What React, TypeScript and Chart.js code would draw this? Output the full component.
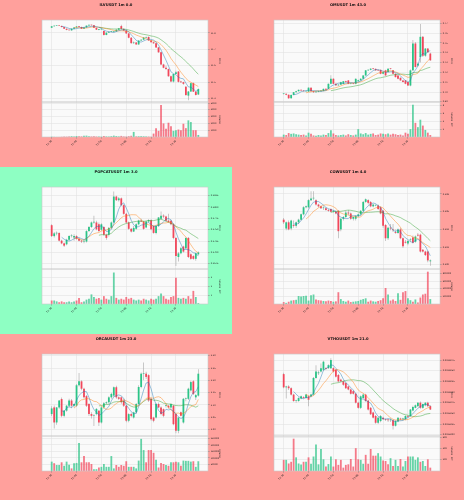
import React, { useEffect, useRef } from "react";
import { Chart, registerables } from "chart.js";

Chart.register(...registerables);
Chart.defaults.font.family = "'DejaVu Sans', sans-serif";

// ---------- shared ----------
const timeLabels = ["12:36", "12:46", "12:56", "13:06", "13:16", "13:26"];
const timeTickIndex = [0, 10, 20, 30, 40, 50];
const maPeriods = [5, 10, 20];
const maColors = ["rgba(31,119,180,0.5)", "rgba(255,127,14,0.5)", "rgba(44,160,44,0.5)"];
const SALMON = "#ffa09c";
const MINT = "#8effc3";
const UP = "#2bc487";
const DOWN = "#f2475b";
const UP_VOL = "rgba(43,196,135,0.72)";
const DOWN_VOL = "rgba(242,71,91,0.72)";
const WICK = "#a6a6a6";

// ---------- ILVUSDT ----------
const ilvTitle = "ILVUSDT 1m 0.0";
const ilvCandles = [
  [11.832,11.843,11.830,11.841],[11.841,11.845,11.840,11.843],[11.843,11.845,11.842,11.844],[11.844,11.845,11.842,11.843],
  [11.843,11.844,11.835,11.836],[11.836,11.837,11.824,11.826],[11.826,11.828,11.817,11.819],[11.819,11.823,11.815,11.816],
  [11.816,11.828,11.814,11.826],[11.826,11.836,11.824,11.834],[11.834,11.842,11.832,11.840],[11.840,11.842,11.835,11.837],
  [11.837,11.838,11.824,11.826],[11.826,11.836,11.824,11.834],[11.834,11.846,11.832,11.845],[11.845,11.851,11.843,11.850],
  [11.850,11.851,11.845,11.847],[11.847,11.848,11.830,11.832],[11.832,11.834,11.818,11.820],[11.820,11.824,11.817,11.822],
  [11.822,11.827,11.820,11.824],[11.812,11.814,11.784,11.788],[11.788,11.805,11.786,11.802],[11.802,11.810,11.800,11.806],
  [11.806,11.812,11.804,11.808],[11.808,11.812,11.805,11.810],[11.810,11.823,11.808,11.820],[11.820,11.830,11.818,11.828],
  [11.842,11.850,11.822,11.825],[11.825,11.827,11.812,11.815],[11.815,11.818,11.795,11.797],[11.797,11.800,11.768,11.771],
  [11.771,11.776,11.735,11.738],[11.738,11.748,11.735,11.742],[11.742,11.745,11.728,11.730],[11.730,11.756,11.728,11.754],
  [11.754,11.762,11.752,11.759],[11.759,11.775,11.757,11.772],[11.772,11.778,11.770,11.775],[11.776,11.778,11.752,11.754],
  [11.754,11.756,11.742,11.744],[11.744,11.746,11.735,11.737],[11.737,11.740,11.710,11.712],[11.712,11.714,11.680,11.682],
  [11.682,11.685,11.605,11.608],[11.608,11.612,11.585,11.588],[11.588,11.600,11.575,11.580],[11.580,11.584,11.533,11.536],
  [11.536,11.540,11.500,11.504],[11.504,11.552,11.498,11.550],[11.550,11.570,11.548,11.560],[11.565,11.568,11.498,11.502],
  [11.502,11.508,11.495,11.500],[11.500,11.502,11.485,11.490],[11.472,11.476,11.418,11.421],[11.418,11.446,11.390,11.443],
  [11.443,11.496,11.440,11.494],[11.494,11.498,11.440,11.442],[11.442,11.445,11.418,11.422],[11.425,11.462,11.422,11.458],
];
const ilvVolume = [40,20,10,10,30,60,50,80,120,60,150,100,90,180,200,120,80,110,70,60,50,150,90,70,120,200,140,90,160,80,60,120,180,750,90,110,120,100,80,60,50,500,1300,900,4700,2000,1200,2100,1600,900,1000,1100,1000,1950,1300,2450,2200,1000,1000,300];
const ilvPriceTicks = [11.4, 11.5, 11.6, 11.7, 11.8];
const ilvPriceRange = [11.379, 11.879];
const ilvVolumeTicks = [1000, 2000, 3000, 4000, 5000];
const ilvVolumeMax = 5150;

// ---------- OMUSDT ----------
const omTitle = "OMUSDT 1m 43.0";
const omCandles = [
  [0.6980,0.6985,0.6975,0.6982],[0.6982,0.6984,0.6968,0.6972],[0.6972,0.6975,0.6932,0.6936],[0.6936,0.6974,0.6933,0.6970],
  [0.6970,0.7000,0.6968,0.6998],[0.6998,0.7012,0.6995,0.7008],[0.7008,0.7025,0.7005,0.7022],[0.7022,0.7024,0.7012,0.7015],
  [0.7015,0.7018,0.7005,0.7008],[0.7008,0.7012,0.7002,0.7008],[0.7004,0.7048,0.7000,0.7044],[0.7044,0.7048,0.7002,0.7008],
  [0.7008,0.7010,0.6990,0.6998],[0.6998,0.7004,0.6992,0.7000],[0.7000,0.7012,0.6998,0.7008],[0.7008,0.7020,0.7004,0.7015],
  [0.7010,0.7035,0.7008,0.7032],[0.7032,0.7035,0.7015,0.7022],[0.7032,0.7088,0.7030,0.7084],[0.7084,0.7170,0.7080,0.7135],
  [0.7135,0.7140,0.7082,0.7084],[0.7084,0.7088,0.7064,0.7068],[0.7068,0.7080,0.7064,0.7075],[0.7075,0.7104,0.7072,0.7100],
  [0.7084,0.7112,0.7080,0.7110],[0.7110,0.7114,0.7098,0.7101],[0.7118,0.7122,0.7080,0.7084],[0.7084,0.7090,0.7078,0.7086],
  [0.7086,0.7090,0.7080,0.7084],[0.7084,0.7138,0.7080,0.7135],[0.7110,0.7125,0.7106,0.7120],[0.7120,0.7140,0.7115,0.7135],
  [0.7135,0.7172,0.7130,0.7169],[0.7169,0.7225,0.7165,0.7221],[0.7221,0.7230,0.7215,0.7226],[0.7226,0.7242,0.7222,0.7238],
  [0.7238,0.7244,0.7230,0.7236],[0.7236,0.7240,0.7218,0.7221],[0.7221,0.7226,0.7214,0.7220],[0.7226,0.7230,0.7180,0.7186],
  [0.7186,0.7208,0.7180,0.7203],[0.7221,0.7226,0.7165,0.7169],[0.7203,0.7242,0.7200,0.7238],[0.7238,0.7244,0.7230,0.7236],
  [0.7221,0.7224,0.7180,0.7186],[0.7186,0.7190,0.7148,0.7152],[0.7169,0.7172,0.7130,0.7135],[0.7145,0.7148,0.7115,0.7118],
  [0.7118,0.7122,0.7098,0.7101],[0.7118,0.7122,0.7080,0.7084],[0.7101,0.7104,0.7062,0.7066],[0.7066,0.7230,0.7060,0.7221],
  [0.7221,0.7530,0.7215,0.7495],[0.7495,0.7510,0.7250,0.7255],[0.7270,0.7300,0.7260,0.7289],[0.7358,0.7693,0.7300,0.7563],
  [0.7563,0.7570,0.7358,0.7370],[0.7370,0.7450,0.7360,0.7443],[0.7443,0.7448,0.7400,0.7405],[0.7392,0.7400,0.7318,0.7323],
];
const omVolume = [600000,500000,1000000,800000,900000,700000,600000,500000,600000,400000,1100000,800000,400000,300000,500000,400000,600000,500000,1000000,1700000,900000,500000,400000,500000,600000,400000,700000,500000,400000,600000,2000000,900000,700000,1000000,600000,800000,900000,500000,600000,900000,800000,700000,900000,600000,800000,700000,500000,600000,400000,1100000,800000,2000000,8200000,3600000,2500000,4400000,2900000,1800000,1100000,500000];
const omPriceTicks = [0.69, 0.70, 0.71, 0.72, 0.73, 0.74, 0.75, 0.76, 0.77];
const omPriceRange = [0.6898, 0.7734];
const omVolumeTicks = [2000000, 4000000, 6000000, 8000000];
const omVolumeMax = 8900000;

// ---------- POPCATUSDT ----------
const popTitle = "POPCATUSDT 1m 3.0";
const popCandles = [
  [0.2760,0.2762,0.2734,0.2736],[0.2736,0.2745,0.2733,0.2742],[0.2742,0.2746,0.2738,0.2743],[0.2743,0.2744,0.2724,0.2726],
  [0.2726,0.2728,0.2718,0.2720],[0.2720,0.2722,0.2712,0.2715],[0.2718,0.2730,0.2716,0.2728],[0.2728,0.2738,0.2726,0.2736],
  [0.2736,0.2740,0.2733,0.2736],[0.2733,0.2740,0.2726,0.2736],[0.2736,0.2738,0.2728,0.2730],[0.2730,0.2732,0.2724,0.2726],
  [0.2726,0.2728,0.2721,0.2724],[0.2724,0.2728,0.2720,0.2726],[0.2724,0.2749,0.2722,0.2747],[0.2747,0.2758,0.2745,0.2756],
  [0.2756,0.2768,0.2754,0.2766],[0.2766,0.2781,0.2763,0.2766],[0.2766,0.2770,0.2749,0.2751],[0.2762,0.2766,0.2745,0.2747],
  [0.2750,0.2764,0.2748,0.2762],[0.2756,0.2758,0.2737,0.2739],[0.2739,0.2741,0.2728,0.2732],[0.2739,0.2756,0.2735,0.2754],
  [0.2754,0.2768,0.2752,0.2766],[0.2766,0.2834,0.2764,0.2823],[0.2823,0.2825,0.2813,0.2815],[0.2815,0.2822,0.2812,0.2819],
  [0.2819,0.2821,0.2802,0.2804],[0.2804,0.2806,0.2783,0.2785],[0.2785,0.2787,0.2764,0.2766],[0.2766,0.2768,0.2750,0.2752],
  [0.2752,0.2754,0.2744,0.2746],[0.2746,0.2758,0.2745,0.2754],[0.2752,0.2764,0.2750,0.2762],[0.2762,0.2772,0.2760,0.2770],
  [0.2770,0.2774,0.2767,0.2768],[0.2768,0.2770,0.2750,0.2752],[0.2755,0.2770,0.2753,0.2768],[0.2768,0.2773,0.2766,0.2771],
  [0.2771,0.2773,0.2749,0.2751],[0.2758,0.2760,0.2741,0.2743],[0.2743,0.2760,0.2740,0.2758],[0.2758,0.2778,0.2756,0.2777],
  [0.2774,0.2790,0.2772,0.2781],[0.2781,0.2784,0.2776,0.2779],[0.2779,0.2781,0.2768,0.2770],[0.2770,0.2785,0.2766,0.2767],
  [0.2770,0.2772,0.2760,0.2762],[0.2762,0.2764,0.2729,0.2732],[0.2732,0.2734,0.2670,0.2692],[0.2690,0.2701,0.2680,0.2698],
  [0.2698,0.2712,0.2696,0.2709],[0.2713,0.2715,0.2700,0.2702],[0.2709,0.2733,0.2707,0.2732],[0.2732,0.2734,0.2688,0.2690],
  [0.2696,0.2698,0.2684,0.2686],[0.2692,0.2694,0.2684,0.2686],[0.2686,0.2699,0.2682,0.2698],[0.2696,0.2702,0.2694,0.2700],
];
const popVolume = [400000,400000,300000,200000,300000,200000,200000,300000,200000,300000,400000,700000,200000,300000,500000,600000,1100000,800000,600000,700000,500000,900000,600000,500000,900000,3600000,700000,500000,600000,500000,800000,600000,700000,500000,400000,500000,400000,600000,500000,400000,600000,500000,600000,900000,1200000,900000,600000,500000,800000,900000,3000000,700000,600000,700000,600000,900000,600000,1500000,800000,100000];
const popPriceTicks = [0.2675, 0.27, 0.2725, 0.275, 0.2775, 0.28, 0.2825];
const popPriceRange = [0.26636, 0.28439];
const popVolumeTicks = [1000000, 2000000, 3000000];
const popVolumeMax = 4000000;

// ---------- COWUSDT ----------
const cowTitle = "COWUSDT 1m 4.0";
const cowCandles = [
  [0.3951,0.3953,0.3946,0.3948],[0.3941,0.3949,0.3939,0.3948],[0.3948,0.3950,0.3939,0.3940],[0.3941,0.3951,0.3939,0.3950],
  [0.3945,0.3950,0.3942,0.3944],[0.3944,0.3949,0.3942,0.3948],[0.3948,0.3952,0.3946,0.3951],[0.3951,0.3958,0.3950,0.3957],
  [0.3957,0.3966,0.3956,0.3965],[0.3965,0.3967,0.3964,0.3966],[0.3965,0.3974,0.3964,0.3973],[0.3973,0.3983,0.3972,0.3975],
  [0.3975,0.3983,0.3973,0.3975],[0.3973,0.3974,0.3967,0.3968],[0.3968,0.3969,0.3965,0.3966],[0.3966,0.3967,0.3963,0.3964],
  [0.3964,0.3966,0.3962,0.3964],[0.3964,0.3965,0.3961,0.3962],[0.3962,0.3963,0.3960,0.3961],[0.3963,0.3964,0.3959,0.3960],
  [0.3960,0.3962,0.3959,0.3961],[0.3960,0.3961,0.3957,0.3958],[0.3961,0.3962,0.3930,0.3938],[0.3940,0.3953,0.3938,0.3952],
  [0.3952,0.3955,0.3950,0.3954],[0.3954,0.3961,0.3953,0.3959],[0.3959,0.3962,0.3956,0.3958],[0.3958,0.3959,0.3951,0.3952],
  [0.3952,0.3954,0.3950,0.3954],[0.3952,0.3956,0.3950,0.3955],[0.3955,0.3958,0.3954,0.3957],[0.3957,0.3962,0.3956,0.3961],
  [0.3961,0.3972,0.3960,0.3971],[0.3971,0.3975,0.3970,0.3974],[0.3973,0.3974,0.3968,0.3970],[0.3971,0.3972,0.3965,0.3966],
  [0.3966,0.3969,0.3965,0.3968],[0.3967,0.3968,0.3966,0.3967],[0.3967,0.3968,0.3962,0.3963],[0.3965,0.3966,0.3957,0.3958],
  [0.3961,0.3962,0.3942,0.3944],[0.3945,0.3946,0.3927,0.3930],[0.3930,0.3943,0.3928,0.3942],[0.3942,0.3946,0.3939,0.3941],
  [0.3940,0.3946,0.3937,0.3939],[0.3937,0.3940,0.3935,0.3936],[0.3936,0.3941,0.3935,0.3940],[0.3940,0.3942,0.3929,0.3930],
  [0.3930,0.3931,0.3919,0.3921],[0.3926,0.3928,0.3924,0.3925],[0.3924,0.3928,0.3922,0.3927],[0.3928,0.3930,0.3926,0.3928],
  [0.3931,0.3933,0.3924,0.3925],[0.3926,0.3933,0.3925,0.3932],[0.3934,0.3936,0.3932,0.3933],[0.3934,0.3935,0.3914,0.3915],
  [0.3917,0.3918,0.3914,0.3915],[0.3915,0.3916,0.3910,0.3911],[0.3915,0.3916,0.3903,0.3905],[0.3904,0.3906,0.3899,0.3905],
];
const cowVolume = [50000,30000,60000,90000,100000,110000,210000,200000,210000,220000,90000,230000,250000,120000,100000,90000,80000,70000,90000,80000,60000,70000,310000,130000,80000,60000,90000,50000,60000,70000,80000,110000,130000,150000,60000,90000,70000,60000,80000,100000,150000,420000,250000,90000,120000,80000,280000,110000,310000,340000,150000,100000,60000,120000,40000,170000,250000,270000,850000,130000];
const cowPriceTicks = [0.390, 0.392, 0.394, 0.396, 0.398];
const cowPriceRange = [0.38953, 0.39878];
const cowVolumeTicks = [200000, 400000, 600000, 800000];
const cowVolumeMax = 920000;

// ---------- ORCAUSDT ----------
const orcaTitle = "ORCAUSDT 1m 23.0";
const orcaCandles = [
  [3.063,3.095,3.055,3.086],[3.090,3.098,3.004,3.029],[3.029,3.092,3.020,3.090],[3.090,3.120,3.085,3.118],
  [3.124,3.130,3.050,3.056],[3.056,3.080,3.050,3.077],[3.077,3.100,3.072,3.097],[3.097,3.125,3.090,3.118],
  [3.118,3.124,3.088,3.097],[3.097,3.106,3.090,3.104],[3.097,3.185,3.092,3.180],[3.180,3.230,3.175,3.196],
  [3.196,3.200,3.160,3.166],[3.166,3.170,3.125,3.131],[3.136,3.140,3.092,3.097],[3.104,3.108,3.055,3.063],
  [3.063,3.070,3.045,3.056],[3.056,3.062,3.015,3.058],[3.063,3.088,3.058,3.084],[3.077,3.080,3.015,3.029],
  [3.029,3.095,3.025,3.090],[3.090,3.112,3.085,3.107],[3.107,3.114,3.104,3.111],[3.111,3.135,3.105,3.131],
  [3.131,3.150,3.125,3.145],[3.138,3.175,3.132,3.172],[3.172,3.178,3.125,3.131],[3.131,3.134,3.120,3.125],
  [3.131,3.134,3.105,3.111],[3.118,3.121,3.092,3.097],[3.097,3.100,3.030,3.036],[3.036,3.066,3.030,3.063],
  [3.063,3.068,3.050,3.056],[3.049,3.072,3.045,3.070],[3.070,3.108,3.065,3.104],[3.104,3.180,3.100,3.173],
  [3.173,3.232,3.168,3.227],[3.227,3.272,3.200,3.228],[3.227,3.235,3.205,3.214],[3.221,3.225,3.112,3.118],
  [3.125,3.128,3.036,3.042],[3.049,3.052,3.030,3.036],[3.049,3.108,3.045,3.104],[3.104,3.110,3.088,3.090],
  [3.090,3.095,3.058,3.063],[3.083,3.086,3.050,3.056],[3.097,3.104,3.090,3.100],[3.097,3.100,3.085,3.090],
  [3.090,3.106,3.085,3.104],[3.097,3.100,3.018,3.022],[3.063,3.068,2.985,2.995],[2.995,3.050,2.985,3.049],
  [3.070,3.074,3.054,3.056],[3.029,3.128,3.025,3.125],[3.125,3.130,3.115,3.127],[3.125,3.170,3.120,3.166],
  [3.159,3.198,3.155,3.193],[3.196,3.200,3.140,3.145],[3.131,3.145,3.120,3.140],[3.138,3.245,3.134,3.227],
];
const orcaVolume = [72000,60000,46000,46000,67000,40000,72000,48000,20000,60000,62000,215000,67000,115000,67000,67000,54000,14000,14000,27000,32000,54000,32000,32000,115000,20000,46000,32000,46000,40000,75000,32000,32000,32000,20000,80000,247000,161000,67000,161000,161000,140000,86000,27000,62000,54000,46000,40000,67000,67000,72000,67000,40000,80000,78000,78000,72000,75000,32000,75000];
const orcaPriceTicks = [3.00, 3.05, 3.10, 3.15, 3.20, 3.25, 3.30];
const orcaPriceRange = [2.974, 3.3068];
const orcaVolumeTicks = [50000, 100000, 150000, 200000, 250000];
const orcaVolumeMax = 269000;

// ---------- VTHOUSDT ----------
const vthoTitle = "VTHOUSDT 1m 21.0";
const vthoCandles = [
  [0.0026042,0.0026045,0.0026009,0.0026011],[0.0026011,0.0026015,0.0025985,0.0026013],[0.0026013,0.0026016,0.0026005,0.0026009],[0.0026009,0.0026011,0.0025992,0.0025994],
  [0.0025994,0.0025996,0.0025977,0.0025979],[0.0025979,0.0025982,0.0025975,0.0025980],[0.0025979,0.0025988,0.0025977,0.0025986],[0.0025985,0.0025992,0.0025983,0.0025990],
  [0.0025988,0.0025990,0.0025984,0.0025986],[0.0025986,0.0025996,0.0025984,0.0025994],[0.0025990,0.0025992,0.0025967,0.0025982],[0.0025990,0.0025996,0.0025988,0.0025994],
  [0.0025994,0.0026035,0.0025992,0.0026033],[0.0026033,0.0026063,0.0026031,0.0026048],[0.0026044,0.0026050,0.0026040,0.0026046],[0.0026048,0.0026067,0.0026046,0.0026056],
  [0.0026052,0.0026073,0.0026050,0.0026071],[0.0026056,0.0026058,0.0026052,0.0026054],[0.0026056,0.0026065,0.0026054,0.0026063],[0.0026056,0.0026079,0.0026054,0.0026075],
  [0.0026056,0.0026058,0.0026046,0.0026048],[0.0026052,0.0026054,0.0026034,0.0026036],[0.0026040,0.0026042,0.0026023,0.0026025],[0.0026029,0.0026031,0.0026024,0.0026025],
  [0.0026025,0.0026027,0.0026015,0.0026017],[0.0026021,0.0026023,0.0026007,0.0026009],[0.0026013,0.0026015,0.0026004,0.0026006],[0.0026006,0.0026008,0.0025994,0.0025996],
  [0.0026002,0.0026004,0.0025994,0.0025996],[0.0025996,0.0025998,0.0025973,0.0025975],[0.0025975,0.0025977,0.0025961,0.0025963],[0.0025963,0.0025992,0.0025960,0.0025990],
  [0.0025986,0.0025996,0.0025984,0.0025994],[0.0025994,0.0025996,0.0025977,0.0025979],[0.0025980,0.0025982,0.0025957,0.0025959],[0.0025963,0.0025965,0.0025946,0.0025948],
  [0.0025952,0.0025954,0.0025938,0.0025940],[0.0025944,0.0025946,0.0025926,0.0025928],[0.0025928,0.0025941,0.0025925,0.0025940],[0.0025932,0.0025946,0.0025929,0.0025944],
  [0.0025940,0.0025942,0.0025935,0.0025936],[0.0025936,0.0025938,0.0025932,0.0025935],[0.0025935,0.0025937,0.0025930,0.0025934],[0.0025934,0.0025938,0.0025930,0.0025935],
  [0.0025934,0.0025936,0.0025912,0.0025921],[0.0025921,0.0025934,0.0025919,0.0025932],[0.0025931,0.0025941,0.0025929,0.0025940],[0.0025938,0.0025940,0.0025934,0.0025936],
  [0.0025936,0.0025940,0.0025934,0.0025938],[0.0025936,0.0025945,0.0025934,0.0025944],[0.0025944,0.0025946,0.0025940,0.0025942],[0.0025944,0.0025960,0.0025942,0.0025959],
  [0.0025957,0.0025968,0.0025955,0.0025965],[0.0025963,0.0025971,0.0025962,0.0025969],[0.0025967,0.0025976,0.0025965,0.0025975],[0.0025975,0.0025978,0.0025961,0.0025963],
  [0.0025963,0.0025973,0.0025961,0.0025972],[0.0025969,0.0025976,0.0025967,0.0025975],[0.0025975,0.0025977,0.0025965,0.0025967],[0.0025967,0.0025969,0.0025958,0.0025959],
];
const vthoVolume = [200e6,200e6,135e6,165e6,580e6,245e6,135e6,115e6,165e6,165e6,245e6,130e6,260e6,475e6,120e6,395e6,210e6,80e6,125e6,260e6,80e6,210e6,110e6,200e6,60e6,110e6,120e6,215e6,80e6,410e6,210e6,200e6,130e6,290e6,130e6,395e6,275e6,275e6,320e6,260e6,190e6,180e6,120e6,230e6,90e6,200e6,90e6,215e6,80e6,180e6,260e6,260e6,260e6,200e6,245e6,165e6,180e6,90e6,210e6,60e6];
const vthoPriceTicks = [0.00259, 0.0025925, 0.002595, 0.0025975, 0.0026, 0.0026025, 0.002605, 0.0026075];
const vthoPriceRange = [0.0025897, 0.0026089];
const vthoVolumeTicks = [200e6, 400e6, 600e6];
const vthoVolumeMax = 628e6;

type PanelCfg = {
  title: string;
  candles: number[][];
  volume: number[];
  priceTicks: number[];
  priceRange: number[];
  decimals: number;
  volumeTicks: number[];
  volumeMax: number;
  volumeExp: number;
  bg: string;
};

const panels: PanelCfg[] = [
  { title: ilvTitle, candles: ilvCandles, volume: ilvVolume, priceTicks: ilvPriceTicks, priceRange: ilvPriceRange, decimals: 1, volumeTicks: ilvVolumeTicks, volumeMax: ilvVolumeMax, volumeExp: 0, bg: SALMON },
  { title: omTitle, candles: omCandles, volume: omVolume, priceTicks: omPriceTicks, priceRange: omPriceRange, decimals: 2, volumeTicks: omVolumeTicks, volumeMax: omVolumeMax, volumeExp: 6, bg: SALMON },
  { title: popTitle, candles: popCandles, volume: popVolume, priceTicks: popPriceTicks, priceRange: popPriceRange, decimals: 4, volumeTicks: popVolumeTicks, volumeMax: popVolumeMax, volumeExp: 6, bg: MINT },
  { title: cowTitle, candles: cowCandles, volume: cowVolume, priceTicks: cowPriceTicks, priceRange: cowPriceRange, decimals: 3, volumeTicks: cowVolumeTicks, volumeMax: cowVolumeMax, volumeExp: 0, bg: SALMON },
  { title: orcaTitle, candles: orcaCandles, volume: orcaVolume, priceTicks: orcaPriceTicks, priceRange: orcaPriceRange, decimals: 2, volumeTicks: orcaVolumeTicks, volumeMax: orcaVolumeMax, volumeExp: 0, bg: SALMON },
  { title: vthoTitle, candles: vthoCandles, volume: vthoVolume, priceTicks: vthoPriceTicks, priceRange: vthoPriceRange, decimals: 7, volumeTicks: vthoVolumeTicks, volumeMax: vthoVolumeMax, volumeExp: 6, bg: SALMON },
];

const PANEL_W = 232;
const PANEL_H = 167;
const X_PAD = 3.9;

const plotFrame = {
  id: "plotFrame",
  beforeDraw(chart: any) {
    const { ctx, chartArea: a } = chart;
    ctx.save();
    ctx.fillStyle = "#fafafa";
    ctx.fillRect(a.left, a.top, a.width, a.height);
    ctx.restore();
  },
  afterDraw(chart: any) {
    const { ctx, chartArea: a, scales } = chart;
    ctx.save();
    ctx.strokeStyle = "#c8c8c8";
    ctx.lineWidth = 0.6;
    for (const id of ["y", "yv"]) {
      const s = scales[id];
      ctx.strokeRect(a.left, s.top, a.width, s.bottom - s.top);
    }
    ctx.restore();
  },
};

function fixedTicks(values: number[], lo: number, hi: number) {
  return (axis: any) => {
    axis.ticks = values.map((v) => ({ value: v }));
    axis.min = lo;
    axis.max = hi;
  };
}

function CandlePanel({ cfg }: { cfg: PanelCfg }) {
  const ref = useRef<HTMLCanvasElement | null>(null);
  useEffect(() => {
    const canvas = ref.current;
    if (!canvas) return;
    const n = cfg.candles.length;
    const up = cfg.candles.map((c) => c[3] >= c[0]);
    const closes = cfg.candles.map((c) => c[3]);
    const bodies = cfg.candles.map((c, i) => ({ x: i, y: [c[0], c[3]] }));
    const wicks = cfg.candles.map((c, i) => ({ x: i, y: [c[2], c[1]] }));
    const vols = cfg.volume.map((v, i) => ({ x: i, y: v }));
    const maSets = maPeriods.map((p, k) => ({
      type: "line",
      data: closes.map((_, i) => ({
        x: i,
        y: i < p - 1 ? null : closes.slice(i - p + 1, i + 1).reduce((a, b) => a + b, 0) / p,
      })),
      yAxisID: "y",
      borderColor: maColors[k],
      borderWidth: 0.9,
      pointRadius: 0,
      tension: 0,
      order: 0,
    }));
    const gridCommon = { color: "#e2e2e2", lineWidth: 0.6, tickLength: 1.5, tickColor: "#777" };
    const tickFont = { size: 2.2 };
    const xMin = -X_PAD;
    const xMax = n - 1 + X_PAD;
    const chart = new Chart(canvas, {
      type: "bar",
      data: {
        datasets: [
          ...maSets,
          {
            type: "bar",
            data: bodies,
            yAxisID: "y",
            backgroundColor: up.map((u) => (u ? UP : DOWN)),
            barThickness: 1.8,
            minBarLength: 0.6,
            grouped: false,
            inflateAmount: 0,
            order: 1,
          },
          {
            type: "bar",
            data: wicks,
            yAxisID: "y",
            backgroundColor: WICK,
            barThickness: 0.6,
            grouped: false,
            inflateAmount: 0,
            order: 2,
          },
          {
            type: "bar",
            data: vols,
            yAxisID: "yv",
            backgroundColor: up.map((u) => (u ? UP_VOL : DOWN_VOL)),
            barThickness: 1.8,
            grouped: false,
            inflateAmount: 0,
            order: 3,
          },
        ] as any,
      },
      options: {
        responsive: false,
        animation: false,
        layout: { padding: 0 },
        plugins: {
          legend: { display: false },
          tooltip: { enabled: false },
          title: {
            display: true,
            text: cfg.title,
            color: "#111",
            font: { size: 3.7, weight: "bold" },
            padding: { top: 3, bottom: 12.6 },
          },
        },
        scales: {
          x: {
            type: "linear",
            position: "bottom",
            bounds: "data",
            offset: false,
            min: xMin,
            max: xMax,
            grid: { ...gridCommon, offset: false },
            border: { display: false },
            afterBuildTicks: fixedTicks(timeTickIndex, xMin, xMax),
            afterFit: (axis: any) => {
              axis.height = 30;
            },
            ticks: {
              autoSkip: false,
              includeBounds: false,
              maxRotation: 45,
              minRotation: 45,
              padding: 1,
              color: "#222",
              font: { size: 2.5 },
              callback: (v: any) => {
                const k = timeTickIndex.indexOf(Number(v));
                return k >= 0 ? timeLabels[k] : "";
              },
            },
          },
          yl: {
            type: "linear",
            position: "left",
            display: true,
            grid: { display: false },
            border: { display: false },
            ticks: { display: false },
            afterFit: (axis: any) => {
              axis.width = 42;
            },
          },
          y: {
            type: "linear",
            position: "right",
            stack: "panes",
            stackWeight: 82,
            bounds: "data",
            min: cfg.priceRange[0],
            max: cfg.priceRange[1],
            grid: gridCommon,
            border: { display: false },
            afterBuildTicks: fixedTicks(cfg.priceTicks, cfg.priceRange[0], cfg.priceRange[1]),
            afterFit: (axis: any) => {
              axis.width = 24;
            },
            ticks: {
              padding: 1.2,
              color: "#222",
              font: tickFont,
              callback: (v: any) => Number(v).toFixed(cfg.decimals),
            },
            title: {
              display: true,
              text: "Price",
              color: "#222",
              font: { size: 2.4 },
              padding: { top: 11.2, bottom: 0 },
            },
          },
          yv: {
            type: "linear",
            position: "right",
            stack: "panes",
            stackWeight: 35,
            bounds: "data",
            min: 0,
            max: cfg.volumeMax,
            grid: gridCommon,
            border: { display: false },
            afterBuildTicks: fixedTicks(cfg.volumeTicks, 0, cfg.volumeMax),
            afterFit: (axis: any) => {
              axis.width = 24;
            },
            ticks: {
              padding: 1.2,
              color: "#222",
              font: tickFont,
              callback: (v: any) => String(Math.round(Number(v) / Math.pow(10, cfg.volumeExp))),
            },
            title: {
              display: true,
              text: cfg.volumeExp > 0 ? "Volume  10" + (cfg.volumeExp === 6 ? "\u2076" : "") : "Volume",
              color: "#222",
              font: { size: 2.4 },
              padding: { top: 11.2, bottom: 0 },
            },
          },
        },
      } as any,
      plugins: [plotFrame],
    });
    return () => chart.destroy();
  }, [cfg]);
  return <canvas ref={ref} width={PANEL_W} height={PANEL_H} style={{ display: "block", width: PANEL_W, height: PANEL_H }} />;
}

export default function App() {
  return (
    <div
      style={{
        position: "fixed",
        left: 0,
        top: 0,
        width: 464,
        height: 500,
        overflow: "hidden",
        background: SALMON,
      }}
    >
      {panels.map((cfg, i) => (
        <div
          key={cfg.title}
          style={{
            position: "absolute",
            left: (i % 2) * PANEL_W,
            top: Math.floor(i / 2) * PANEL_H,
            width: PANEL_W,
            height: PANEL_H,
            background: cfg.bg,
          }}
        >
          <CandlePanel cfg={cfg} />
        </div>
      ))}
    </div>
  );
}
